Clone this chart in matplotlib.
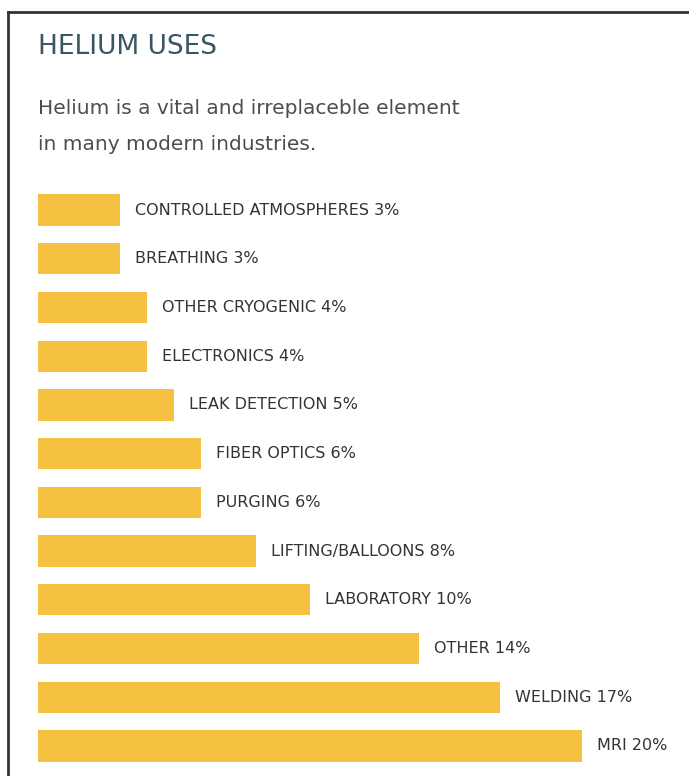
import matplotlib.pyplot as plt
from matplotlib.lines import Line2D

categories = ['CONTROLLED ATMOSPHERES', 'BREATHING', 'OTHER CRYOGENIC', 'ELECTRONICS',
              'LEAK DETECTION', 'FIBER OPTICS', 'PURGING', 'LIFTING/BALLOONS',
              'LABORATORY', 'OTHER', 'WELDING', 'MRI']
shares = [3, 3, 4, 4, 5, 6, 6, 8, 10, 14, 17, 20]

plt.rcParams['font.family'] = ['DejaVu Sans']

W, H = 689, 776
fig = plt.figure(figsize=(W / 100, H / 100), dpi=100)
fig.patch.set_facecolor('white')

# frame: only top and left edges visible in the crop
fig.add_artist(Line2D([8 / W, 1], [1 - 12 / H, 1 - 12 / H], color='#333333', lw=2))
fig.add_artist(Line2D([8 / W, 8 / W], [1 - 12 / H, 0], color='#333333', lw=2))

fig.text(38 / W, 1 - 54 / H, 'HELIUM USES', fontsize=19, color='#3a5663', va='baseline')
fig.text(38 / W, 1 - 114 / H, 'Helium is a vital and irreplaceble element',
         fontsize=14.5, color='#4d4d4d', va='baseline')
fig.text(38 / W, 1 - 150 / H, 'in many modern industries.',
         fontsize=14.5, color='#4d4d4d', va='baseline')

px_per_pct = 27.2
step = 48.7
top = 210 - step / 2
bottom = 746 + step / 2
ax = fig.add_axes([38 / W, 1 - bottom / H, (W - 38) / W, (bottom - top) / H])
ax.set_xlim(0, (W - 38) / px_per_pct)
ax.set_ylim(len(categories) - 0.5, -0.5)

ypos = list(range(len(categories)))
ax.barh(ypos, shares, height=0.64, color='#f6c140')
for y, cat, v in zip(ypos, categories, shares):
    ax.text(v + 15 / px_per_pct, y, f'{cat} {v}%', fontsize=11.5, color='#333333',
            va='center', ha='left')

ax.axis('off')
fig.savefig('out.png', dpi=100)
